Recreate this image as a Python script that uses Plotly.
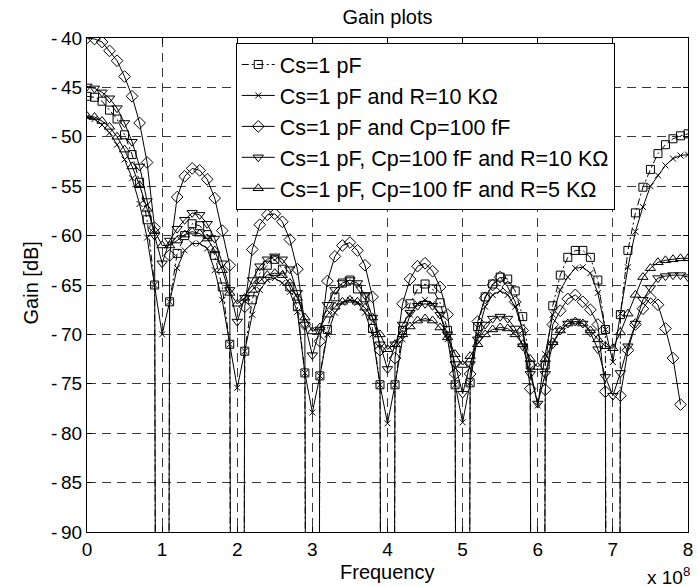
import plotly.graph_objects as go

# Frequency in units of 1e8 Hz
freq_e8 = [0.0, 0.1, 0.2, 0.3, 0.4, 0.5, 0.6, 0.7, 0.8, 0.9,
           1.0, 1.1, 1.2, 1.3, 1.4, 1.5, 1.6, 1.7, 1.8, 1.9,
           2.0, 2.1, 2.2, 2.3, 2.4, 2.5, 2.6, 2.7, 2.8, 2.9,
           3.0, 3.1, 3.2, 3.3, 3.4, 3.5, 3.6, 3.7, 3.8, 3.9,
           4.0, 4.1, 4.2, 4.3, 4.4, 4.5, 4.6, 4.7, 4.8, 4.9,
           5.0, 5.1, 5.2, 5.3, 5.4, 5.5, 5.6, 5.7, 5.8, 5.9,
           6.0, 6.1, 6.2, 6.3, 6.4, 6.5, 6.6, 6.7, 6.8, 6.9,
           7.0, 7.1, 7.2, 7.3, 7.4, 7.5, 7.6, 7.7, 7.8, 7.9,
           8.0]

gain_cs = [-45.9, -46.0, -46.4, -47.3, -48.2, -49.8, -51.8, -54.6, -58.4, -65.0,
           -400, -66.7, -61.8, -60.0, -58.8, -59.0, -59.9, -62.0, -65.2, -71.0,
           -400, -71.7, -66.5, -63.8, -63.0, -62.4, -63.4, -65.2, -67.2, -73.9,
           -400, -74.2, -69.5, -66.2, -64.8, -64.5, -65.4, -66.3, -69.4, -75.1,
           -400, -75.1, -69.6, -66.9, -65.4, -64.9, -65.4, -66.8, -69.6, -75.1,
           -400, -74.9, -69.2, -66.2, -64.9, -64.2, -64.4, -65.6, -68.2, -73.1,
           -400, -73.1, -67.1, -64.0, -62.2, -61.5, -61.5, -62.2, -64.5, -69.5,
           -400, -68.0, -61.5, -57.7, -55.1, -53.3, -51.7, -50.8, -50.2, -49.9,
           -49.7]

gain_cs_r10 = [-48.0, -48.2, -48.8, -49.6, -50.8, -52.3, -54.2, -56.8, -60.2, -65.0,
               -70.0, -66.7, -63.3, -61.5, -60.8, -60.8, -61.3, -63.5, -66.5, -71.0,
               -75.4, -71.7, -68.0, -65.5, -64.5, -64.3, -64.8, -65.7, -67.7, -73.9,
               -77.9, -74.2, -70.0, -67.8, -66.8, -66.5, -66.8, -67.8, -70.0, -75.1,
               -79.0, -75.1, -70.5, -68.0, -66.9, -66.5, -66.9, -68.0, -70.5, -75.1,
               -78.9, -74.9, -70.0, -67.2, -66.0, -65.6, -66.0, -67.2, -69.6, -73.5,
               -77.2, -72.0, -68.0, -65.5, -64.2, -63.3, -63.2, -63.8, -65.8, -69.5,
               -72.8, -67.9, -63.2, -59.6, -57.1, -55.0, -53.9, -52.9, -52.2, -51.9,
               -51.8]

gain_cs_cp = [-40.0, -40.1, -40.4, -41.3, -42.3, -43.9, -45.9, -48.6, -52.6, -59.2,
              -400, -62.0, -56.1, -54.0, -53.2, -53.4, -54.3, -56.2, -59.5, -63.0,
              -400, -67.2, -61.4, -58.9, -57.9, -57.8, -58.6, -60.4, -63.4, -69.0,
              -400, -70.7, -64.6, -62.1, -61.0, -60.7, -61.5, -63.0, -66.2, -71.6,
              -400, -72.4, -66.9, -64.4, -63.1, -62.8, -63.6, -65.2, -68.0, -74.0,
              -400, -74.0, -68.7, -66.3, -65.0, -64.2, -65.2, -66.7, -69.6, -75.5,
              -400, -75.6, -69.0, -67.6, -66.4, -66.0, -66.7, -67.5, -69.0, -75.8,
              -400, -76.2, -71.6, -69.0, -67.4, -66.3, -67.0, -69.4, -72.4, -77.1,
              None]

gain_cs_cp_r10 = [-44.9, -45.1, -45.5, -46.1, -47.1, -48.6, -50.5, -53.0, -56.5, -60.0,
                  -62.8, -60.5, -59.3, -58.4, -57.7, -57.9, -58.8, -60.3, -62.8, -65.5,
                  -68.7, -66.3, -64.5, -63.1, -62.4, -62.1, -62.4, -63.4, -65.8, -69.0,
                  -72.1, -69.5, -67.0, -65.5, -64.8, -64.5, -64.8, -66.0, -68.3, -71.0,
                  -73.5, -71.0, -69.0, -67.8, -67.1, -66.9, -67.1, -68.0, -70.0, -73.0,
                  -76.0, -73.0, -70.5, -69.0, -68.4, -68.2, -68.4, -69.4, -71.2, -74.0,
                  -77.0, -74.0, -71.0, -69.6, -68.9, -68.7, -68.9, -69.8, -71.5, -74.3,
                  -76.2, -73.9, -71.2, -68.9, -66.5, -65.3, -64.3, -64.1, -64.0, -64.0,
                  -64.2]

gain_cs_cp_r5 = [-47.9, -48.0, -48.4, -49.0, -50.0, -51.3, -53.0, -54.9, -57.3, -59.5,
                 -61.0, -61.0, -60.5, -59.9, -59.6, -59.8, -60.3, -61.5, -63.5, -65.8,
                 -66.9, -66.3, -65.5, -64.6, -64.0, -63.8, -64.0, -64.8, -66.3, -68.3,
                 -69.7, -69.3, -68.0, -67.2, -66.7, -66.5, -66.7, -67.3, -68.3, -70.0,
                 -71.5, -71.0, -70.0, -69.2, -68.6, -68.4, -68.6, -69.3, -70.3, -72.0,
                 -73.1, -72.2, -71.0, -70.0, -69.5, -69.3, -69.4, -70.0, -71.0, -72.5,
                 -73.3, -72.5, -70.8, -69.6, -68.9, -68.7, -68.9, -69.6, -70.5, -71.2,
                 -71.4, -69.8, -67.9, -66.0, -64.2, -63.3, -62.7, -62.5, -62.4, -62.3,
                 -62.3]

series_names = ["Cs=1 pF",
                "Cs=1 pF and R=10 KΩ",
                "Cs=1 pF and Cp=100 fF",
                "Cs=1 pF, Cp=100 fF and R=10 KΩ",
                "Cs=1 pF, Cp=100 fF and R=5 KΩ"]

x_tick_vals_e8 = [0, 1, 2, 3, 4, 5, 6, 7, 8]
x_tick_text = ["0", "1", "2", "3", "4", "5", "6", "7", "8"]
y_tick_vals = [-90, -85, -80, -75, -70, -65, -60, -55, -50, -45, -40]
y_tick_text = ["-\u200990", "-\u200985", "-\u200980", "-\u200975", "-\u200970",
               "-\u200965", "-\u200960", "-\u200955", "-\u200950", "-\u200945",
               "-\u200940"]

freq_hz = [f * 1e8 for f in freq_e8]

styles = [
    dict(symbol="square-open", size=8, dash="7px,3px,2px,3px"),
    dict(symbol="x-thin-open", size=6, dash="solid"),
    dict(symbol="diamond-open", size=9, dash="solid"),
    dict(symbol="triangle-down-open", size=9, dash="solid"),
    dict(symbol="triangle-up-open", size=9, dash="solid"),
]
all_series = [gain_cs, gain_cs_r10, gain_cs_cp, gain_cs_cp_r10, gain_cs_cp_r5]

FONT = "Liberation Sans, Arial, Helvetica, sans-serif"

fig = go.Figure()
for name, ys, st in zip(series_names, all_series, styles):
    fig.add_trace(go.Scatter(
        x=freq_hz, y=ys, name=name, mode="lines+markers",
        line=dict(color="black", width=1, dash=st["dash"]),
        marker=dict(symbol=st["symbol"], size=st["size"], color="black",
                    line=dict(color="black", width=1)),
    ))

axis_common = dict(
    showgrid=True, gridcolor="#3a3a3a", gridwidth=1, griddash="9px,6px",
    showline=True, linecolor="black", linewidth=1, mirror="ticks",
    ticks="inside", ticklen=5, tickcolor="black", zeroline=False,
    tickfont=dict(family=FONT, size=19, color="black"),
)

fig.update_layout(
    width=699, height=587,
    margin=dict(l=87, r=6, t=38, b=55),
    paper_bgcolor="white", plot_bgcolor="white",
    font=dict(family=FONT, color="black"),
    title=dict(text="Gain plots", x=0.5, xref="paper", xanchor="center",
               y=1 - 17 / 587, yref="container", yanchor="middle",
               font=dict(family=FONT, size=20, color="black")),
    xaxis=dict(range=[0, 8e8], tickmode="array",
               tickvals=[v * 1e8 for v in x_tick_vals_e8], ticktext=x_tick_text,
               **axis_common),
    yaxis=dict(range=[-90, -40], tickmode="array",
               tickvals=y_tick_vals, ticktext=y_tick_text, **axis_common),
    legend=dict(x=(237 - 87) / 606, y=(532 - 43) / 494, xanchor="left", yanchor="top",
                bgcolor="white", bordercolor="black", borderwidth=1,
                font=dict(family=FONT, size=21.5, color="black"),
                itemwidth=33),
    showlegend=True,
    annotations=[
        dict(text="Frequency", x=0.5, y=(532 - 572) / 494, xref="paper", yref="paper",
             xanchor="center", yanchor="middle", showarrow=False,
             font=dict(family=FONT, size=20, color="black")),
        dict(text="Gain [dB]", x=(31 - 87) / 606, y=(532 - 283) / 494, xref="paper",
             yref="paper", xanchor="center", yanchor="middle", textangle=-90,
             showarrow=False, font=dict(family=FONT, size=20, color="black")),
        dict(text="x 10<sup>8</sup>", x=(697 - 87) / 606, y=(532 - 576) / 494,
             xref="paper", yref="paper", xanchor="right", yanchor="middle",
             showarrow=False, font=dict(family=FONT, size=19, color="black")),
    ],
)

fig.write_html("out.html", config={"displayModeBar": False},
               post_script="document.body.style.margin='0';document.body.style.overflow='hidden';")
